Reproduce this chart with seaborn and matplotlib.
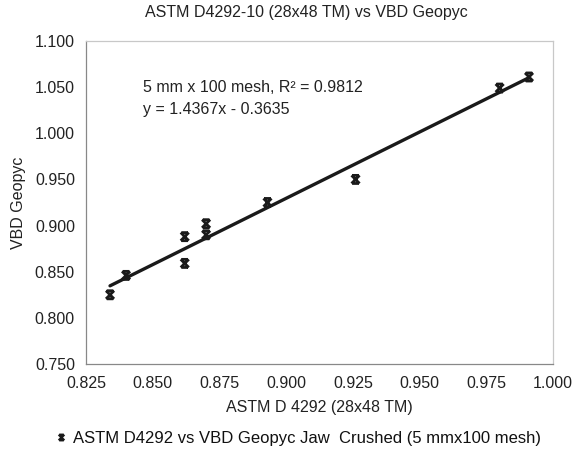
import matplotlib
matplotlib.use('Agg')
import matplotlib.pyplot as plt
import numpy as np
import pandas as pd
import seaborn as sns
from matplotlib.path import Path

# values
astm = [0.834, 0.840, 0.862, 0.862, 0.870, 0.870, 0.893, 0.926, 0.980, 0.991]
geopyc = [0.825, 0.846, 0.888, 0.859, 0.902, 0.890, 0.925, 0.950, 1.049, 1.061]
slope = 1.4367
intercept = -0.3635
r_squared = 0.9812

x_ticks = [0.825, 0.850, 0.875, 0.900, 0.925, 0.950, 0.975, 1.000]
y_ticks = [0.750, 0.800, 0.850, 0.900, 0.950, 1.000, 1.050, 1.100]

series_name = 'ASTM D4292 vs VBD Geopyc Jaw  Crushed (5 mmx100 mesh)'

df = pd.DataFrame({'ASTM': astm, 'Geopyc': geopyc, 'Series': series_name})

sns.set_style('white')
plt.rcParams['font.family'] = ['Liberation Sans', 'DejaVu Sans']

# excel style "x with caps" marker
star_x = Path(
    [(-1, -1), (1, 1), (-1, 1), (1, -1), (-0.8, 1), (0.8, 1), (-0.8, -1), (0.8, -1)],
    [Path.MOVETO, Path.LINETO, Path.MOVETO, Path.LINETO,
     Path.MOVETO, Path.LINETO, Path.MOVETO, Path.LINETO])

ink = '#1a1a1a'

fig = plt.figure(figsize=(5.78, 4.55), dpi=100)
ax = fig.add_axes([0.1488, 0.2, 0.808, 0.7099])

sns.scatterplot(data=df, x='ASTM', y='Geopyc', hue='Series', palette=[ink],
                marker=star_x, s=34, linewidth=2.0, edgecolor=ink,
                ax=ax, legend=True, zorder=3)

# linear trend line from the stated fit
xs = np.array([min(astm), max(astm)])
ax.plot(xs, slope * xs + intercept, color=ink, lw=2.4, zorder=2)

ax.text(0.8465, 1.050, f'5 mm x 100 mesh, R\u00b2 = {r_squared}', fontsize=11.5,
        color='#222222', va='center')
ax.text(0.8465, 1.026, f'y = {slope}x - {abs(intercept)}', fontsize=11.5,
        color='#222222', va='center')

ax.set_xlim(0.825, 1.000)
ax.set_ylim(0.750, 1.100)
ax.set_xticks(x_ticks)
ax.set_yticks(y_ticks)
ax.xaxis.set_major_formatter(matplotlib.ticker.FormatStrFormatter('%.3f'))
ax.yaxis.set_major_formatter(matplotlib.ticker.FormatStrFormatter('%.3f'))
ax.tick_params(axis='x', direction='in', length=4, width=0.8, color='#888888',
               labelsize=11.5, labelcolor='#222222', pad=9)
ax.tick_params(axis='y', direction='out', length=4, width=0.8, color='#888888',
               labelsize=11.5, labelcolor='#222222', pad=4)
for side in ['left', 'bottom']:
    ax.spines[side].set_color('#888888')
    ax.spines[side].set_linewidth(0.9)
for side in ['top', 'right']:
    ax.spines[side].set_color('#c8c8c8')
    ax.spines[side].set_linewidth(0.9)

ax.set_xlabel('ASTM D 4292 (28x48 TM)', fontsize=11.5, color='#222222', labelpad=6)
ax.set_ylabel('VBD Geopyc', fontsize=11.5, color='#222222', labelpad=6)
fig.text(0.53, 0.972, 'ASTM D4292-10 (28x48 TM) vs VBD Geopyc', fontsize=11.5,
         color='#222222', ha='center', va='center')

handles, labels = ax.get_legend_handles_labels()
ax.get_legend().remove()
for h in handles:
    h.set_markeredgecolor(ink)
    h.set_markerfacecolor(ink)
    h.set_markeredgewidth(1.6)
fig.legend(handles, labels, loc='center', bbox_to_anchor=(0.516, 0.037), frameon=False,
           fontsize=12, handlelength=0.6, handletextpad=0.4, labelcolor='#111111',
           markerscale=0.7)

fig.savefig('out.png', dpi=100)
